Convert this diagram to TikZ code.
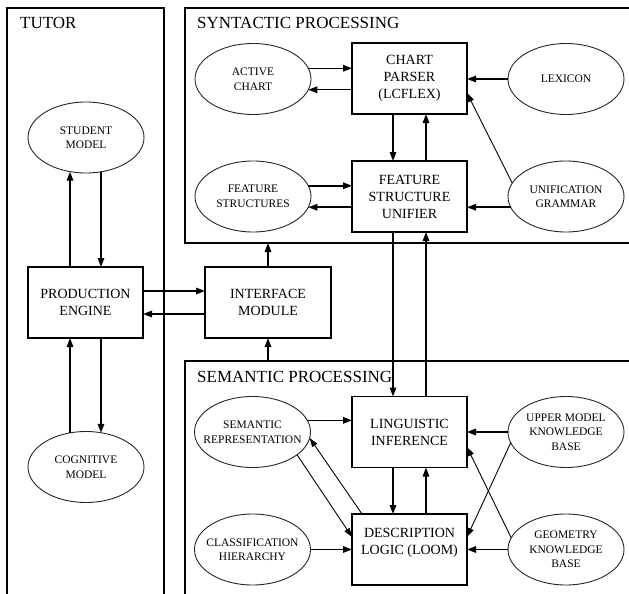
\documentclass[tikz,border=0pt]{standalone}
\usepackage{fontspec}
\setmainfont{Liberation Serif}
\usetikzlibrary{arrows.meta,shapes.geometric}
\begin{document}
\begin{tikzpicture}[x=1pt,y=-1pt,
  box/.style={draw,line width=1.5pt,minimum width=115pt,minimum height=71pt,inner sep=0pt,outer sep=0pt,align=center,font=\fontsize{14}{17}\selectfont},
  ell/.style={draw=black!85,line width=0.9pt,ellipse,minimum width=116pt,minimum height=71pt,inner xsep=-25pt,inner ysep=0pt,outer sep=0pt,align=center,font=\fontsize{11.5}{14.5}\selectfont},
  cont/.style={line width=1.5pt},
  arr/.style={line width=1.5pt,-{Triangle[length=9pt,width=6.5pt]}},
  thinarr/.style={line width=0.9pt,-{Triangle[length=9pt,width=6pt]}},
  title/.style={anchor=base west,inner sep=0pt,font=\fontsize{17}{20}\selectfont}]
\useasboundingbox (0,0) rectangle (629,594);
% containers
\draw[cont] (7,594) -- (7,8) -- (164,8) -- (164,594);
\draw[cont] (629,8) -- (185,8) -- (185,243) -- (629,243);
\draw[cont] (629,361) -- (185,361) -- (185,594);
\coordinate (synbot) at (268,243);
\coordinate (sembot) at (268,361);
% titles
\node[title] (tt) at (20,28.5) {TUTOR};
\node[title] (st) at (197,28.5) {SYNTACTIC PROCESSING};
\node[title] (smt) at (197,382) {SEMANTIC PROCESSING};
% nodes
\node[box] (prod) at (85.5,302.5) {PRODUCTION\\ENGINE};
\node[box,minimum width=126pt] (intf) at (268,302.5) {INTERFACE\\MODULE};
\node[ell] (stud) at (86,137.5) {STUDENT\\MODEL};
\node[ell] (cog) at (86,467) {COGNITIVE\\MODEL};
\node[ell] (ac) at (253,79) {ACTIVE\\CHART};
\node[ell] (fs) at (253,196.5) {FEATURE\\STRUCTURES};
\node[box] (cp) at (409.5,78.5) {CHART\\PARSER\\(LCFLEX)};
\node[box] (fsu) at (409.5,196.5) {FEATURE\\STRUCTURE\\UNIFIER};
\node[ell] (lex) at (566,79) {LEXICON};
\node[ell] (ug) at (566,196.5) {UNIFICATION\\GRAMMAR};
\node[ell] (sr) at (252.5,432) {SEMANTIC\\REPRESENTATION};
\node[ell] (cl) at (252.5,549.5) {CLASSIFICATION\\HIERARCHY};
\node[box] (li) at (409.5,432) {LINGUISTIC\\INFERENCE};
\node[box] (dl) at (409.5,549.5) {DESCRIPTION\\LOGIC (LOOM)\\\mbox{}};
\node[ell] (um) at (566,432) {UPPER MODEL\\KNOWLEDGE\\BASE};
\node[ell] (geo) at (566,549.5) {GEOMETRY\\KNOWLEDGE\\BASE};
% tutor
\draw[arr] ([xshift=-15.5pt]prod.north) -- ([xshift=-16pt,yshift=1.3pt]stud.south);
\draw[arr] ([xshift=15pt,yshift=1.3pt]stud.south) -- ([xshift=15.5pt]prod.north);
\draw[arr] ([xshift=-16pt,yshift=-1.3pt]cog.north) -- ([xshift=-15.5pt]prod.south);
\draw[arr] ([xshift=15.5pt]prod.south) -- ([xshift=15pt,yshift=-1.3pt]cog.north);
\draw[arr] ([yshift=11.5pt]prod.east) -- ([yshift=11.5pt]intf.west);
\draw[arr] ([yshift=-11.5pt]intf.west) -- ([yshift=-11.5pt]prod.east);
\draw[arr] (intf.north) -- (synbot);
\draw[arr] (sembot) -- (intf.south);
% syntactic
\draw[arr] (ac.11.8) -- (ac.11.8 -| cp.west);
\draw[arr] (ac.-11.8 -| cp.west) -- (ac.-11.8);
\draw[arr] (lex.west) -- (lex.west -| cp.east);
\draw[arr] ([xshift=-16.5pt]cp.south) -- ([xshift=-16.5pt]fsu.north);
\draw[arr] ([xshift=16.5pt]fsu.north) -- ([xshift=16.5pt]cp.south);
\draw[arr] (fs.11.8) -- (fs.11.8 -| fsu.west);
\draw[arr] (fs.-11.8 -| fsu.west) -- (fs.-11.8);
\draw[arr] (ug.191.8) -- (ug.191.8 -| fsu.east);
\draw[thinarr] (ug.166) -- ([yshift=-14.5pt]cp.east);
% between
\draw[arr] ([xshift=-16.5pt]fsu.south) -- ([xshift=-16.5pt]li.north);
\draw[arr] ([xshift=16.5pt]li.north) -- ([xshift=16.5pt]fsu.south);
% semantic
\draw[arr] (sr.12) -- (sr.12 -| li.west);
\draw[arr] (um.west) -- (um.west -| li.east);
\draw[arr] ([xshift=-16.5pt]li.south) -- ([xshift=-16.5pt]dl.north);
\draw[arr] ([xshift=16.5pt]dl.north) -- ([xshift=16.5pt]li.south);
\draw[arr] (cl.east) -- (cl.east -| dl.west);
\draw[arr] (geo.west) -- (geo.west -| dl.east);
\draw[thinarr] (um.191.3) -- ([yshift=12.5pt]dl.east);
\draw[thinarr] (geo.168.2) -- ([yshift=-15pt]li.east);
\draw[thinarr] ([xshift=10pt]dl.north west) -- (sr.-6);
\draw[thinarr] (sr.-27) -- ([yshift=12.5pt]dl.west);
\end{tikzpicture}
\end{document}
